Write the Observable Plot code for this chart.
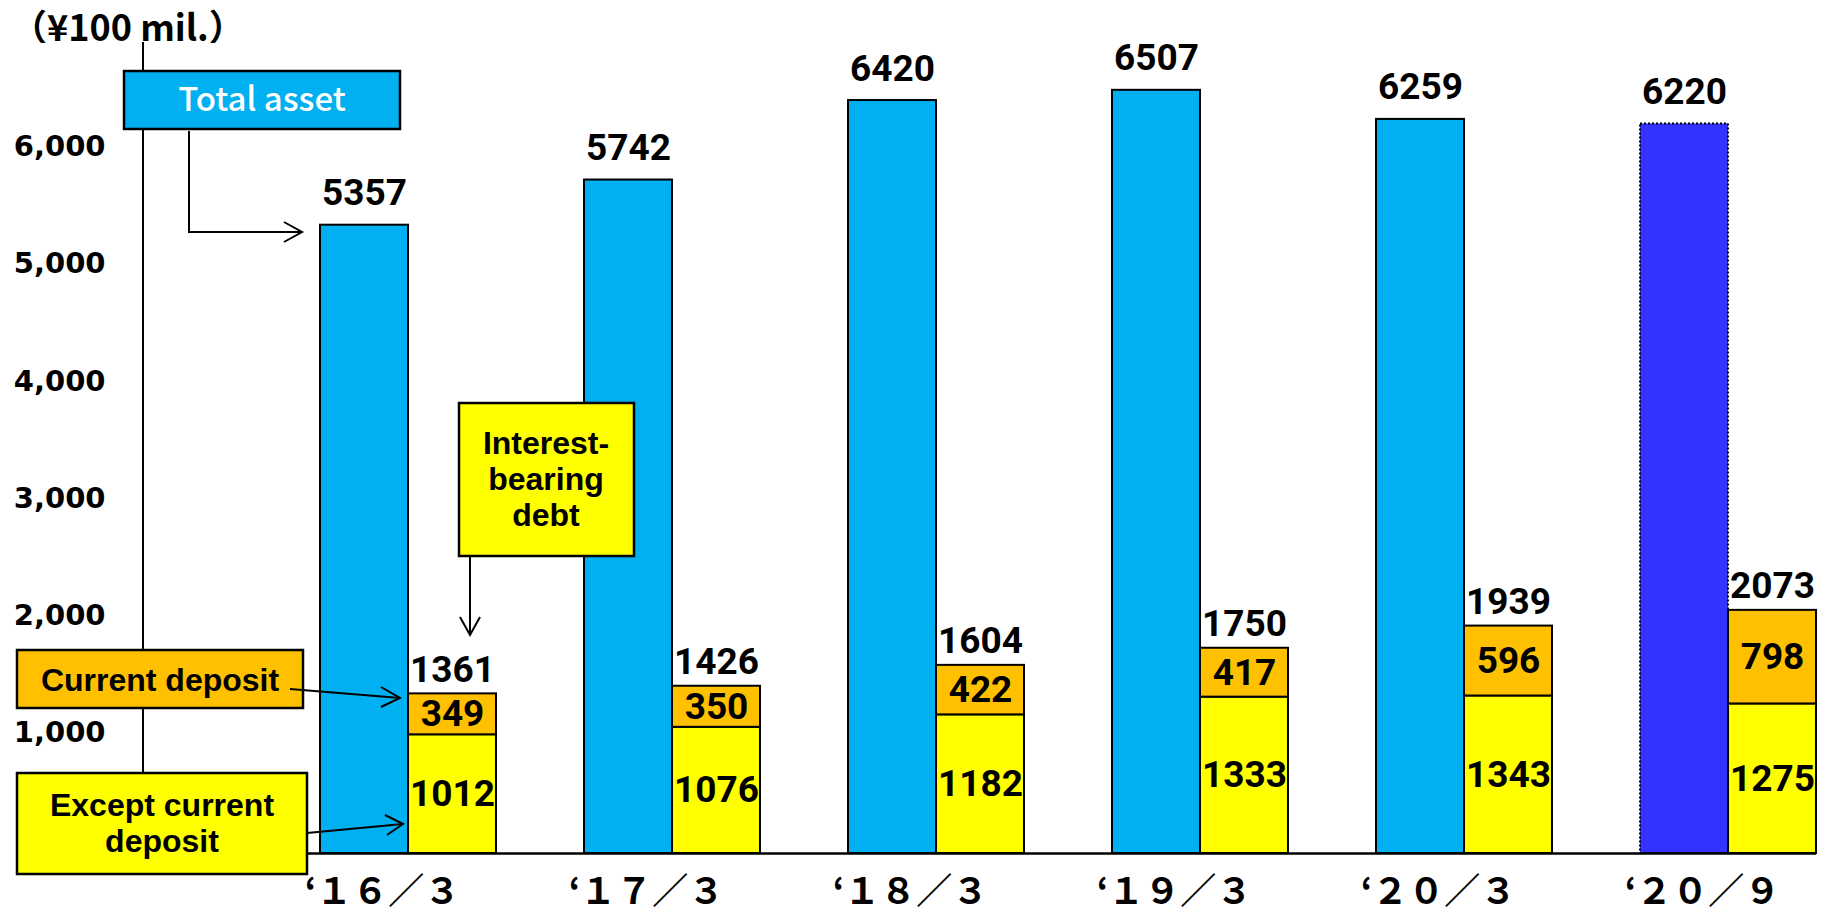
<!DOCTYPE html>
<html><head><meta charset="utf-8">
<script src="https://cdn.jsdelivr.net/npm/d3@7"></script>
<script src="https://cdn.jsdelivr.net/npm/@observablehq/plot@0.6"></script>
<style>
html,body{margin:0;padding:0;background:#fff;}
#wrap{position:relative;width:1825px;height:917px;overflow:hidden;background:#fff;}
#wrap > svg{position:absolute;left:0;top:0;}
</style></head><body><div id="wrap"></div>
<script>
// ---- data ----
const periods = ["‘１６／３", "‘１７／３", "‘１８／３", "‘１９／３", "‘２０／３", "‘２０／９"];
const totalAsset = [5357, 5742, 6420, 6507, 6259, 6220];
const exceptCurrentDeposit = [1012, 1076, 1182, 1333, 1343, 1275];
const currentDeposit = [349, 350, 422, 417, 596, 798];
const axisTickValues = [1000, 2000, 3000, 4000, 5000, 6000];
const unitLabel = "（¥100 mil.）";

// ---- tables ----
const assets = periods.map((p, i) => ({period: p, total: totalAsset[i], latest: i === periods.length - 1}));
const debt = periods.flatMap((p, i) => [
  {period: p, kind: "except", value: exceptCurrentDeposit[i]},
  {period: p, kind: "current", value: currentDeposit[i]}
]);
const debtTotals = periods.map((p, i) => ({period: p, value: exceptCurrentDeposit[i] + currentDeposit[i]}));

const numFont = {fontFamily: "Roboto, sans-serif", fontWeight: "bold", fontSize: 37, fill: "#000"};
const half = 88;

const chart = Plot.plot({
  width: 1825, height: 917,
  marginTop: 32, marginBottom: 64, marginLeft: 143, marginRight: 9,
  x: {domain: periods, paddingInner: 1/3, paddingOuter: 0.3352, align: 1},
  y: {domain: [0, 7000]},
  color: {domain: ["except", "current"], range: ["#FFFF00", "#FFC000"]},
  style: {background: "white", overflow: "visible"},
  marks: [
    Plot.barY(assets.filter(d => !d.latest), {x: "period", y: "total", fill: "#00B0F0", stroke: "#000", strokeWidth: 2, insetRight: half}),
    Plot.barY(assets.filter(d => d.latest), {x: "period", y: "total", fill: "#3333FF", stroke: "#000", strokeWidth: 2, strokeDasharray: "2,2", insetRight: half}),
    Plot.barY(debt, {x: "period", y: "value", fill: "kind", stroke: "#000", strokeWidth: 2, insetLeft: half}),
    Plot.ruleY([0], {stroke: "#000", strokeWidth: 2.5}),
    Plot.text(assets, {x: "period", y: "total", text: d => String(d.total), dx: -half / 2, dy: -20, lineAnchor: "bottom", ...numFont}),
    Plot.text(debtTotals, {x: "period", y: "value", text: d => String(d.value), dx: half / 2, dy: -12, lineAnchor: "bottom", ...numFont}),
    Plot.text(debt, Plot.stackY({x: "period", y: "value", text: d => String(d.value), dx: half / 2, ...numFont})),
    Plot.axisY(axisTickValues, {tickSize: 0, tickPadding: 38, tickFormat: d3.format(","), label: null, dy: -3,
      fontFamily: "'DejaVu Sans', sans-serif", fontWeight: "bold", fontSize: 29, fill: "#000"}),
    Plot.axisX({tickSize: 0, tickPadding: 25, dx: -26, fontSize: 36, fontFamily: "'Noto Sans CJK JP', sans-serif", fontWeight: "bold", label: null, fill: "#000"})
  ]
});
const wrap = document.getElementById("wrap");
wrap.appendChild(chart);

// ---- callout annotations (overlay) ----
const F = "'Noto Sans CJK JP', sans-serif";
const FL = "'Liberation Sans', Arial, sans-serif";
const ov = d3.select(wrap).append("svg").attr("width", 1825).attr("height", 917).style("pointer-events", "none");
ov.append("defs").append("clipPath").attr("id", "titleclip").append("rect").attr("x", 0).attr("y", 0).attr("width", 400).attr("height", 43);
ov.append("line").attr("x1", 143).attr("x2", 143).attr("y1", 42).attr("y2", 853).attr("stroke", "#000").attr("stroke-width", 2);
ov.append("text").attr("x", 11).attr("y", 41).attr("clip-path", "url(#titleclip)")
  .attr("font-family", F).attr("font-weight", "bold").attr("font-size", 36).text(unitLabel);

function box(x, y, w, h, fill) {
  ov.append("rect").attr("x", x).attr("y", y).attr("width", w).attr("height", h)
    .attr("fill", fill).attr("stroke", "#000").attr("stroke-width", 2.5);
}
function label(lines, cx, y0, lineH, size, weight, color, family) {
  const t = ov.append("text").attr("text-anchor", "middle").attr("font-family", family)
    .attr("font-weight", weight).attr("font-size", size).attr("fill", color);
  lines.forEach((s, i) => t.append("tspan").attr("x", cx).attr("y", y0 + i * lineH).attr("dy", "0.36em").text(s));
}
function path(d) {
  ov.append("path").attr("d", d).attr("fill", "none").attr("stroke", "#000").attr("stroke-width", 2);
}

// Total asset
box(124, 71, 276, 58, "#00B0F0");
label(["Total asset"], 262, 99, 0, 33, 500, "#fff", F);
path("M189,131 V232 H302");
path("M284,222 L302,232 L284,242");

// Interest-bearing debt
box(459, 403, 175, 153, "#FFFF00");
label(["Interest-", "bearing", "debt"], 546, 442, 36, 32, "bold", "#000", FL);
path("M470,556 V635");
path("M460,617 L470,635 L480,617");

// Current deposit
box(17, 650, 286, 58, "#FFC000");
label(["Current deposit"], 160, 679, 0, 32, "bold", "#000", FL);
path("M290,689 L400,698");
path("M381,687 L400,698 L381,707");

// Except current deposit
box(17, 773, 290, 101, "#FFFF00");
label(["Except current", "deposit"], 162, 804, 36, 32, "bold", "#000", FL);
path("M307,833 L403,824");
path("M385,815 L403,824 L387,835");
</script>
</body></html>
